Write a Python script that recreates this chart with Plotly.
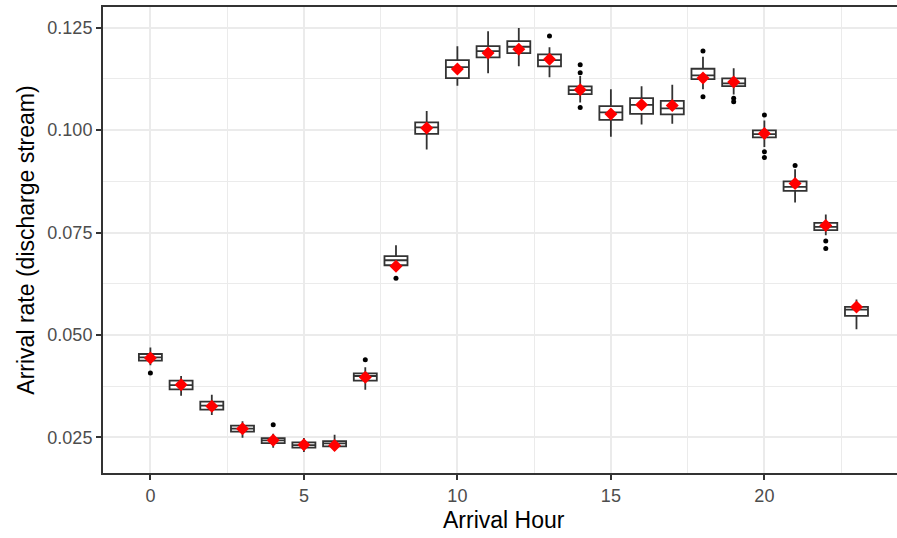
import plotly.graph_objects as go

hours = list(range(24))
upper_whisker = [0.04690, 0.03996, 0.03541, 0.02889, 0.02588, 0.02480, 0.02564, 0.04208, 0.07190, 0.10464, 0.12045, 0.12412,
                 0.12493, 0.12021, 0.11320, 0.10995, 0.11068, 0.11107, 0.11791, 0.11508, 0.10237, 0.09047, 0.07940, 0.05863]
q3 = [0.04533, 0.03883, 0.03370, 0.02783, 0.02480, 0.02375, 0.02407, 0.04062, 0.06921, 0.10188, 0.11711, 0.12053,
      0.12175, 0.11850, 0.11068, 0.10586, 0.10782, 0.10716, 0.11498, 0.11263, 0.09993, 0.08746, 0.07735, 0.05682]
median = [0.04453, 0.03776, 0.03272, 0.02710, 0.02424, 0.02309, 0.02351, 0.03996, 0.06823, 0.10066, 0.11540, 0.11931,
          0.12036, 0.11711, 0.10978, 0.10433, 0.10618, 0.10530, 0.11337, 0.11141, 0.09902, 0.08614, 0.07637, 0.05618]
q1 = [0.04372, 0.03671, 0.03174, 0.02637, 0.02358, 0.02246, 0.02278, 0.03883, 0.06701, 0.09910, 0.11271, 0.11777,
      0.11882, 0.11557, 0.10880, 0.10252, 0.10398, 0.10384, 0.11246, 0.11075, 0.09822, 0.08517, 0.07556, 0.05462]
lower_whisker = [0.04257, 0.03517, 0.03043, 0.02490, 0.02246, 0.02138, 0.02180, 0.03663, 0.06579, 0.09528, 0.11083, 0.11386,
                 0.11557, 0.11288, 0.10677, 0.09836, 0.10139, 0.10154, 0.10995, 0.10872, 0.09585, 0.08233, 0.07434, 0.05137]
mean_rate = [0.04436, 0.03780, 0.03255, 0.02710, 0.02430, 0.02318, 0.02302, 0.03964, 0.06676, 0.10049, 0.11491, 0.11882,
             0.11972, 0.11728, 0.10985, 0.10391, 0.10618, 0.10604, 0.11271, 0.11173, 0.09919, 0.08697, 0.07671, 0.05682]

outlier_hours = [0, 4, 7, 8, 13, 14, 14, 14, 18, 18, 19, 19, 20, 20, 20, 21, 22, 22]
outlier_values = [0.04069, 0.02808, 0.04396, 0.06383, 0.12297, 0.11596, 0.11400, 0.10555, 0.11931, 0.10814,
                  0.10780, 0.10692, 0.10367, 0.09470, 0.09333, 0.09137, 0.07295, 0.07109]

x_ticks = [0, 5, 10, 15, 20]
y_ticks = [0.025, 0.050, 0.075, 0.100, 0.125]
y_tick_labels = ["0.025", "0.050", "0.075", "0.100", "0.125"]

FONT = "Liberation Sans, Arial, sans-serif"
DARK = "#333333"
GRID = "#EBEBEB"

fig = go.Figure()
fig.add_trace(go.Box(
    x=hours, q1=q1, median=median, q3=q3,
    lowerfence=lower_whisker, upperfence=upper_whisker,
    boxpoints=False, width=0.75, whiskerwidth=0,
    fillcolor="white", line=dict(color=DARK, width=1.8),
    showlegend=False, hoverinfo="skip",
))
fig.add_trace(go.Scatter(
    x=outlier_hours, y=outlier_values, mode="markers",
    marker=dict(color="black", size=5), showlegend=False,
))
fig.add_trace(go.Scatter(
    x=hours, y=mean_rate, mode="markers",
    marker=dict(color="#FF0000", size=10, symbol="diamond", line=dict(width=0)),
    showlegend=False,
))

fig.update_layout(
    width=897, height=538,
    margin=dict(l=103, r=0, t=7, b=65),
    paper_bgcolor="white", plot_bgcolor="white",
    font=dict(family=FONT),
    xaxis=dict(
        range=[-1.544, 24.32], tickvals=x_ticks, ticktext=[str(v) for v in x_ticks],
        showgrid=True, gridcolor=GRID, gridwidth=2,
        minor=dict(dtick=2.5, tick0=0, showgrid=True, gridcolor=GRID, gridwidth=1.1),
        zeroline=False, showline=True, linecolor=DARK, linewidth=2, mirror=True,
        ticks="outside", ticklen=5, tickwidth=2, tickcolor=DARK,
        tickfont=dict(size=18, color="#4D4D4D", family=FONT),
        automargin=False,
    ),
    yaxis=dict(
        range=[0.01628, 0.13006], tickvals=y_ticks, ticktext=y_tick_labels,
        showgrid=True, gridcolor=GRID, gridwidth=2,
        minor=dict(dtick=0.0125, tick0=0, showgrid=True, gridcolor=GRID, gridwidth=1.1),
        zeroline=False, showline=True, linecolor=DARK, linewidth=2, mirror=False,
        ticks="outside", ticklen=5, tickwidth=2, tickcolor=DARK,
        tickfont=dict(size=18, color="#4D4D4D", family=FONT),
        title=dict(text="Arrival rate (discharge stream)", font=dict(size=23, color="black", family=FONT), standoff=6),
        automargin=False,
    ),
    annotations=[dict(
        text="Arrival Hour", xref="paper", yref="paper",
        x=(504 - 103) / 794, y=-(520 - 472.7) / 465.7, xanchor="center", yanchor="middle",
        showarrow=False, font=dict(size=23, color="black", family=FONT),
    )],
)

fig.write_html("out.html", config={"displayModeBar": False},
               post_script="document.body.style.margin='0';document.body.style.overflow='hidden';")
